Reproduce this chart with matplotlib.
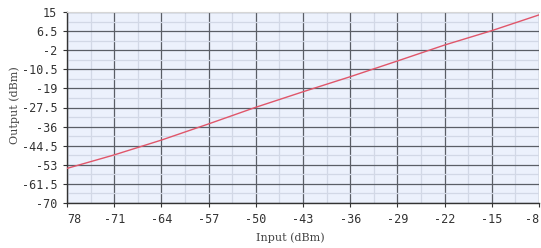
import numpy as np
import matplotlib.pyplot as plt
from matplotlib.ticker import FixedLocator

# data
input_dbm = [-78, -71, -64, -57, -50, -43, -36, -29, -22, -15, -8]
output_dbm = [-54.6, -48.6, -42.0, -34.8, -27.4, -20.5, -13.8, -6.8, 0.3, 6.7, 13.7]

x_ticks = [-78, -71, -64, -57, -50, -43, -36, -29, -22, -15, -8]
x_labels = ["78", "-71", "-64", "-57", "-50", "-43", "-36", "-29", "-22", "-15", "-8"]
y_ticks = [15, 6.5, -2, -10.5, -19, -27.5, -36, -44.5, -53, -61.5, -70]
y_labels = ["15", "6.5", "-2", "-10.5", "-19", "-27.5", "-36", "-44.5", "-53", "-61.5", "-70"]

fig = plt.figure(figsize=(5.41, 2.48), dpi=100)
ax = fig.add_axes([67 / 541, 45 / 248, 472 / 541, 191 / 248])
ax.set_facecolor("#ecf1fc")

ax.plot(input_dbm, output_dbm, color="#e0566a", lw=1.0, zorder=3)

ax.set_xlim(-78, -8)
ax.set_ylim(-70, 15)
ax.set_xticks(x_ticks)
ax.set_xticklabels(x_labels, family="DejaVu Sans Mono", fontsize=8.5, color="#333333")
ax.set_yticks(y_ticks)
ax.set_yticklabels(y_labels, family="DejaVu Sans Mono", fontsize=8.5, color="#333333")
ax.get_xticklabels()[0].set_horizontalalignment("left")
ax.get_xticklabels()[-1].set_horizontalalignment("right")

# minor grid halfway between the major lines
x_mid = [(a + b) / 2 for a, b in zip(x_ticks[:-1], x_ticks[1:])]
y_mid = [(a + b) / 2 for a, b in zip(y_ticks[:-1], y_ticks[1:])]
ax.xaxis.set_minor_locator(FixedLocator(x_mid))
ax.yaxis.set_minor_locator(FixedLocator(y_mid))

ax.grid(which="minor", color="#d2d8e6", lw=0.9)
ax.grid(which="major", color="#5a5e66", lw=0.9)
ax.set_axisbelow(True)
ax.tick_params(which="major", length=3, width=0.8, color="#333333", pad=4)
ax.tick_params(which="minor", length=0)

for s in ["left", "bottom"]:
    ax.spines[s].set_color("#333333")
    ax.spines[s].set_linewidth(1.0)
ax.spines["top"].set_color("#d6d6d6")
ax.spines["right"].set_visible(False)

fig.text(290 / 541, 1 - 238 / 248, "Input (dBm)", ha="center", va="center",
         family="DejaVu Serif", fontsize=8, color="#444444")
fig.text(15 / 541, 1 - 105 / 248, "Output (dBm)", ha="center", va="center",
         rotation=90, family="DejaVu Serif", fontsize=8, color="#444444")

plt.savefig("out.png", dpi=100)
